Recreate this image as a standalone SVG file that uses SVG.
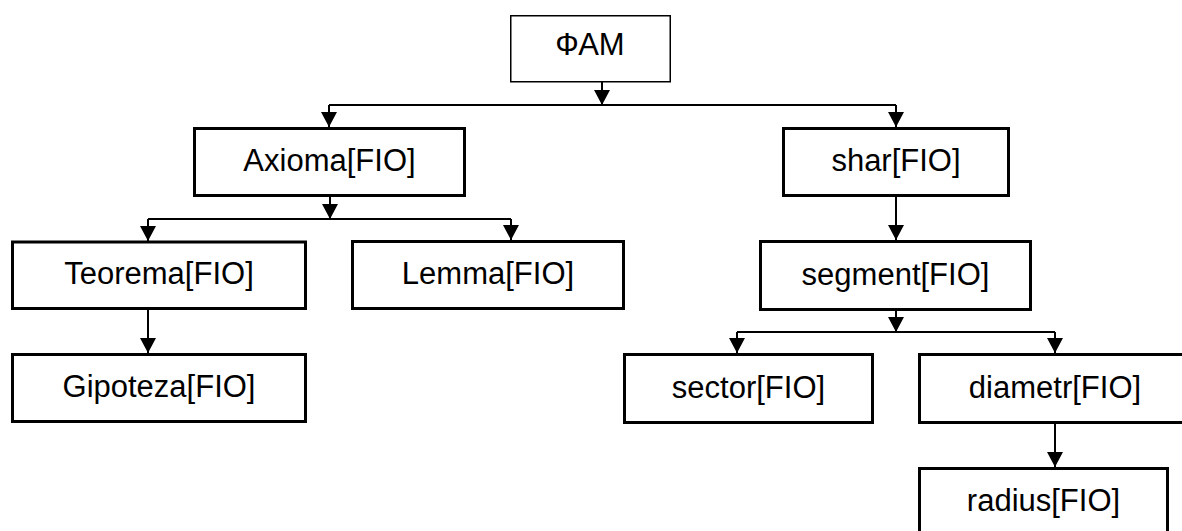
<svg xmlns="http://www.w3.org/2000/svg" width="1182" height="531" viewBox="0 0 1182 531">
<style>
.box{fill:#fff;stroke:#000;stroke-width:3}
.thin{fill:#fff;stroke:#000;stroke-width:1.5}
.lbl{font-family:"Liberation Sans",Arial,sans-serif;font-size:31px;fill:#000;text-anchor:middle}
.con{fill:none;stroke:#000;stroke-width:2}
</style>
<defs>
<marker id="ah" viewBox="0 0 15 16" refX="15" refY="8" markerWidth="15" markerHeight="16" markerUnits="userSpaceOnUse" orient="auto">
<path d="M0,0 L15,8 L0,16 Z" fill="#000"/>
</marker>
</defs>
<rect width="1182" height="531" fill="#fff"/>
<g id="connectors">
<path class="con" d="M602,82 V105" marker-end="url(#ah)"/>
<path class="con" d="M329,105 H896"/>
<path class="con" d="M329,105 V127" marker-end="url(#ah)"/>
<path class="con" d="M896,105 V127" marker-end="url(#ah)"/>
<path class="con" d="M330,197 V219" marker-end="url(#ah)"/>
<path class="con" d="M148,219 H511"/>
<path class="con" d="M148,219 V241" marker-end="url(#ah)"/>
<path class="con" d="M511,219 V240" marker-end="url(#ah)"/>
<path class="con" d="M148,310 V353" marker-end="url(#ah)"/>
<path class="con" d="M896,197 V240" marker-end="url(#ah)"/>
<path class="con" d="M896,311 V332" marker-end="url(#ah)"/>
<path class="con" d="M737,332 H1055"/>
<path class="con" d="M737,332 V353" marker-end="url(#ah)"/>
<path class="con" d="M1055,332 V353" marker-end="url(#ah)"/>
<path class="con" d="M1055,424 V467" marker-end="url(#ah)"/>
</g>
<g id="fam"><rect class="thin" x="510.75" y="15.75" width="159.5" height="66"/><text class="lbl" x="590" y="55">ФАМ</text></g>
<g id="axioma"><rect class="box" x="194.5" y="128.5" width="270" height="67"/><text class="lbl" x="329.5" y="171">Axioma[FIO]</text></g>
<g id="shar"><rect class="box" x="783.5" y="128.5" width="225" height="67"/><text class="lbl" x="896" y="171">shar[FIO]</text></g>
<g id="teorema"><rect class="box" x="12.5" y="242" width="293" height="66.5"/><text class="lbl" x="159" y="284">Teorema[FIO]</text></g>
<g id="lemma"><rect class="box" x="352.5" y="241.5" width="271" height="67"/><text class="lbl" x="488" y="284">Lemma[FIO]</text></g>
<g id="segment"><rect class="box" x="760.5" y="241.5" width="270" height="68"/><text class="lbl" x="895.5" y="285">segment[FIO]</text></g>
<g id="gipoteza"><rect class="box" x="12.5" y="354.5" width="293" height="67"/><text class="lbl" x="159" y="397">Gipoteza[FIO]</text></g>
<g id="sector"><rect class="box" x="624.5" y="354.5" width="248" height="68"/><text class="lbl" x="748.5" y="398">sector[FIO]</text></g>
<g id="diametr"><rect class="box" x="919.5" y="354.5" width="271" height="68"/><text class="lbl" x="1055" y="398">diametr[FIO]</text></g>
<g id="radius"><rect class="box" x="919.5" y="468.5" width="248" height="68"/><text class="lbl" x="1043.5" y="511">radius[FIO]</text></g>
</svg>
